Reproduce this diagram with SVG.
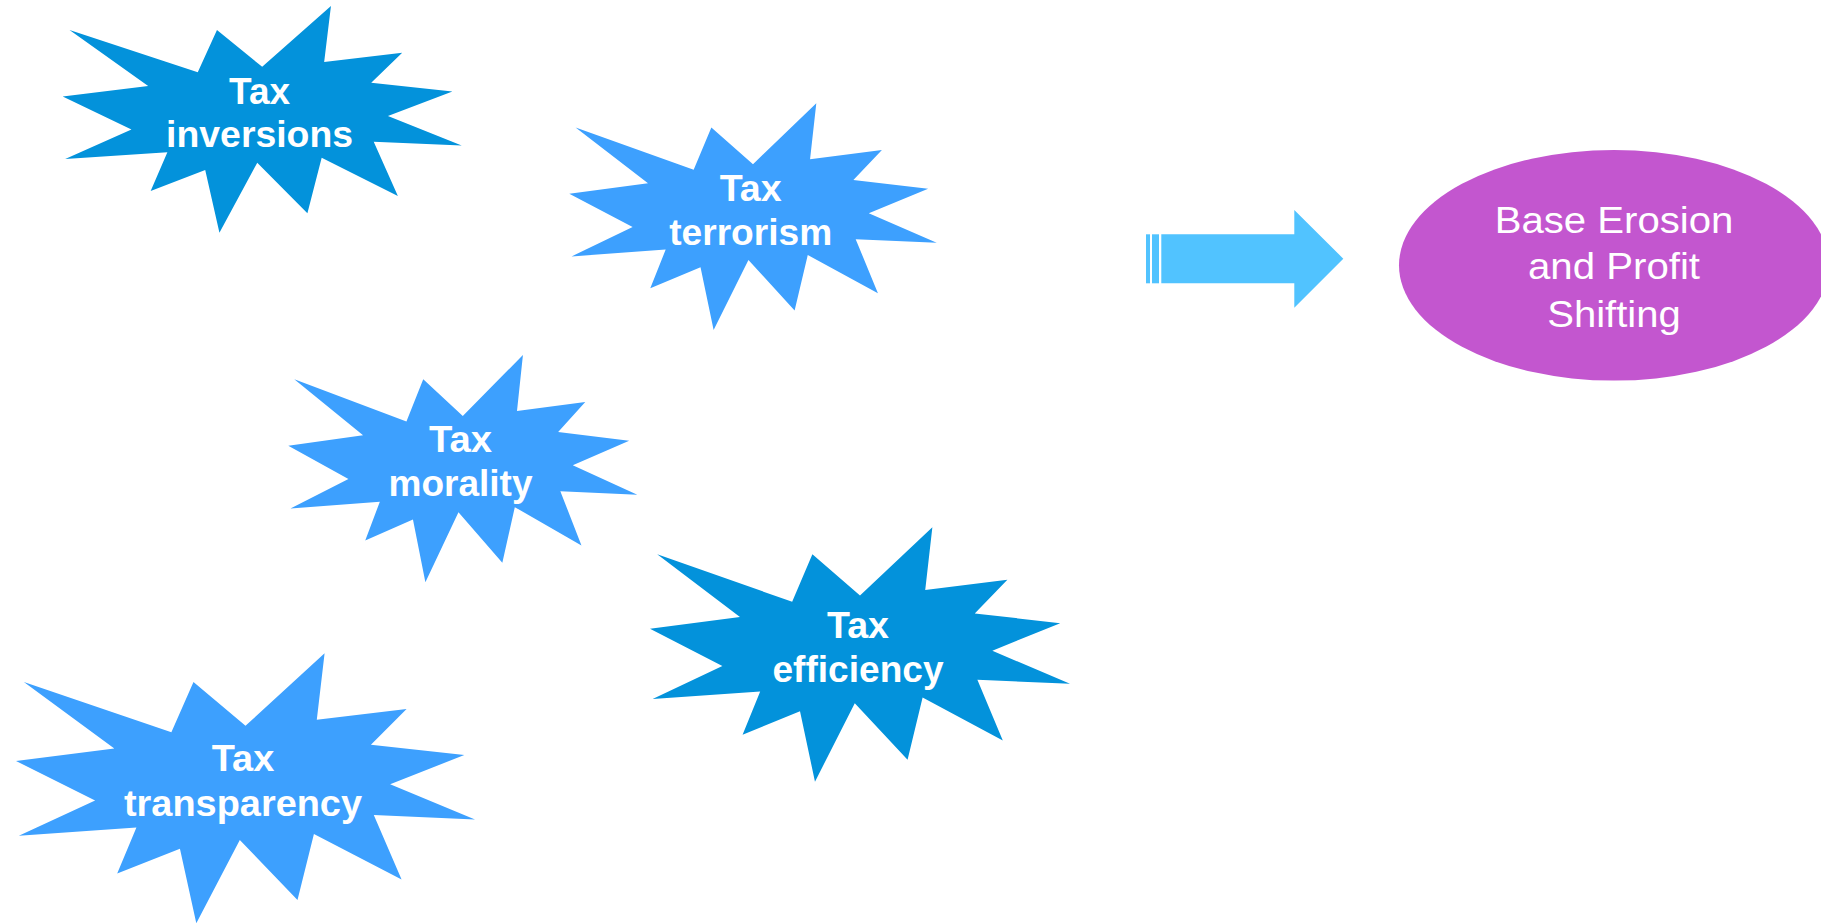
<svg xmlns="http://www.w3.org/2000/svg" xmlns:xlink="http://www.w3.org/1999/xlink" width="1821" height="924" viewBox="0 0 1821 924">
  <style>
    .burst-dark { fill: #0392DB; }
    .burst-light { fill: #3DA0FE; }
    .burst-label { font-family: "Liberation Sans", Arial, sans-serif; font-weight: bold; font-size: 36px; fill: #FFFFFF; text-anchor: middle; }
    .goal-label { font-family: "Liberation Sans", Arial, sans-serif; font-size: 36px; fill: #FFFFFF; text-anchor: middle; }
    .arrow { fill: #51C3FF; }
  </style>
  <defs>
    <!-- explosion outline on a 21600 x 21600 grid -->
    <path id="burst" d="M10800,5800 L14522,0 L14155,5325 L18380,4457 L16702,7315 L21097,8137 L17607,10475 L21600,13290 L16837,12942 L18145,18095 L14020,14457 L13247,19737 L10532,14935 L8485,21600 L7715,15627 L4762,17617 L5667,13937 L135,14587 L3722,11775 L0,8615 L4627,7617 L370,2295 L7312,6320 L8352,2295 Z"/>
  </defs>

  <rect width="1821" height="924" fill="#FFFFFF"/>

  <g id="tax-inversions">
    <use xlink:href="#burst" class="burst-dark" transform="translate(62.7,6) scale(0.018472,0.010495)"/>
    <text class="burst-label" x="259.6" y="104" textLength="61" lengthAdjust="spacingAndGlyphs">Tax</text>
    <text class="burst-label" x="259.6" y="147.3" textLength="187" lengthAdjust="spacingAndGlyphs">inversions</text>
  </g>

  <g id="tax-terrorism">
    <use xlink:href="#burst" class="burst-light" transform="translate(569.3,103.3) scale(0.017009,0.010495)"/>
    <text class="burst-label" x="750.7" y="201" textLength="62" lengthAdjust="spacingAndGlyphs">Tax</text>
    <text class="burst-label" x="750.7" y="245" textLength="163" lengthAdjust="spacingAndGlyphs">terrorism</text>
  </g>

  <g id="tax-morality">
    <use xlink:href="#burst" class="burst-light" transform="translate(288.3,355) scale(0.016157,0.010523)"/>
    <text class="burst-label" x="460.5" y="451.7" textLength="63" lengthAdjust="spacingAndGlyphs">Tax</text>
    <text class="burst-label" x="460.5" y="495.7" textLength="144" lengthAdjust="spacingAndGlyphs">morality</text>
  </g>

  <g id="tax-efficiency">
    <use xlink:href="#burst" class="burst-dark" transform="translate(650,527.3) scale(0.019444,0.011778)"/>
    <text class="burst-label" x="858" y="638.3" textLength="62" lengthAdjust="spacingAndGlyphs">Tax</text>
    <text class="burst-label" x="858" y="681.7" textLength="171" lengthAdjust="spacingAndGlyphs">efficiency</text>
  </g>

  <g id="tax-transparency">
    <use xlink:href="#burst" class="burst-light" transform="translate(16,653.3) scale(0.02125,0.0125)"/>
    <text class="burst-label" x="243" y="770.7" textLength="62.5" lengthAdjust="spacingAndGlyphs">Tax</text>
    <text class="burst-label" x="243" y="815.7" textLength="238" lengthAdjust="spacingAndGlyphs">transparency</text>
  </g>

  <g id="connectors">
    <!-- striped block arrow -->
    <rect class="arrow" x="1146" y="234.3" width="4" height="49"/>
    <rect class="arrow" x="1152" y="234.3" width="7" height="49"/>
    <path class="arrow" d="M1161.3,234.3 L1294.3,234.3 L1294.3,210 L1343.3,258.7 L1294.3,307.7 L1294.3,283.3 L1161.3,283.3 Z"/>
  </g>

  <g id="beps">
    <ellipse cx="1614" cy="265.3" rx="215" ry="115.3" fill="#C356CF"/>
    <text class="goal-label" x="1614" y="232.7" textLength="238.5" lengthAdjust="spacingAndGlyphs">Base Erosion</text>
    <text class="goal-label" x="1614" y="279.3" textLength="172" lengthAdjust="spacingAndGlyphs">and Profit</text>
    <text class="goal-label" x="1614" y="327.3" textLength="133.5" lengthAdjust="spacingAndGlyphs">Shifting</text>
  </g>
</svg>
